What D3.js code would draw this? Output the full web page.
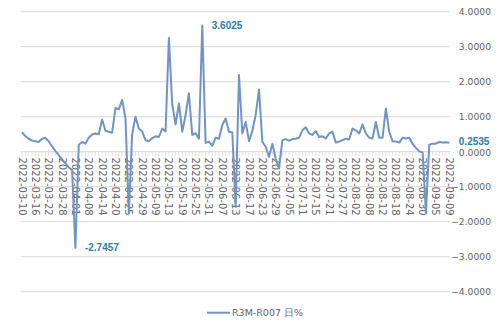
<!DOCTYPE html>
<html><head><meta charset="utf-8">
<script src="https://cdn.jsdelivr.net/npm/d3@7"></script>
<style>body{margin:0;background:#fff;}svg{display:block;}</style>
</head><body><svg id="c" width="500" height="323"></svg>
<script>
const dates = [
"2022-03-10","2022-03-11","2022-03-14","2022-03-15","2022-03-16","2022-03-17","2022-03-18","2022-03-21","2022-03-22","2022-03-23","2022-03-24","2022-03-25","2022-03-28","2022-03-29","2022-03-30","2022-03-31",
"2022-04-01","2022-04-02","2022-04-06","2022-04-07","2022-04-08","2022-04-11","2022-04-12","2022-04-13","2022-04-14","2022-04-15","2022-04-18","2022-04-19","2022-04-20","2022-04-21","2022-04-22","2022-04-24","2022-04-25","2022-04-26","2022-04-27","2022-04-28","2022-04-29",
"2022-05-05","2022-05-06","2022-05-07","2022-05-09","2022-05-10","2022-05-11","2022-05-12","2022-05-13","2022-05-16","2022-05-17","2022-05-18","2022-05-19","2022-05-20","2022-05-23","2022-05-24","2022-05-25","2022-05-26","2022-05-27","2022-05-30","2022-05-31",
"2022-06-01","2022-06-02","2022-06-06","2022-06-07","2022-06-08","2022-06-09","2022-06-10","2022-06-13","2022-06-14","2022-06-15","2022-06-16","2022-06-17","2022-06-20","2022-06-21","2022-06-22","2022-06-23","2022-06-24","2022-06-27","2022-06-28","2022-06-29","2022-06-30",
"2022-07-01","2022-07-04","2022-07-05","2022-07-06","2022-07-07","2022-07-08","2022-07-11","2022-07-12","2022-07-13","2022-07-14","2022-07-15","2022-07-18","2022-07-19","2022-07-20","2022-07-21","2022-07-22","2022-07-25","2022-07-26","2022-07-27","2022-07-28","2022-07-29",
"2022-08-01","2022-08-02","2022-08-03","2022-08-04","2022-08-05","2022-08-08","2022-08-09","2022-08-10","2022-08-11","2022-08-12","2022-08-15","2022-08-16","2022-08-17","2022-08-18","2022-08-19","2022-08-22","2022-08-23","2022-08-24","2022-08-25","2022-08-26","2022-08-29","2022-08-30","2022-08-31",
"2022-09-01","2022-09-02","2022-09-05","2022-09-06","2022-09-07","2022-09-08","2022-09-09"];

const values = [
0.55,0.45,0.37,0.32,0.30,0.28,0.37,0.39,0.30,0.15,0.02,-0.10,-0.22,-0.33,-0.45,-0.52,
-2.7457,0.20,0.28,0.23,0.40,0.49,0.52,0.50,0.92,0.60,0.57,0.54,1.25,1.21,1.48,0.95,
-1.75,0.50,1.00,0.66,0.58,0.33,0.30,0.39,0.44,0.42,0.66,0.58,3.25,1.35,0.78,1.38,
0.57,1.05,1.67,0.48,0.53,0.37,3.6025,0.25,0.29,0.17,0.40,0.37,0.76,0.95,0.57,0.55,
-1.58,2.19,0.52,0.85,0.30,0.60,1.05,1.78,0.28,0.14,-0.15,0.23,-0.20,-0.48,0.33,0.36,
0.31,0.36,0.37,0.40,0.61,0.70,0.52,0.48,0.59,0.42,0.44,0.38,0.52,0.57,0.26,0.29,
0.33,0.37,0.35,0.66,0.61,0.52,0.78,0.52,0.40,0.38,0.85,0.40,0.40,1.23,0.57,0.30,
0.29,0.26,0.40,0.38,0.40,0.23,0.11,0.01,-0.02,-1.75,0.20,0.23,0.23,0.28,0.26,0.27,
0.2535];

const yTicks = [4,3,2,1,0,-1,-2,-3,-4];
const seriesName = "R3M-R007 日%";
const labelEvery = 4;

const seriesColor = "#7094c4";
const labelColor = "#2b7ea6";
const textColor = "#646464";
const gridColor = "#d9d9d9";
const font = "'DejaVu Sans', sans-serif";

const svg = d3.select("#c");
const plotLeft = 20.5, plotRight = 450;
const x = d3.scalePoint().domain(dates).range([22, 449.3]);
const y = d3.scaleLinear().domain([-4, 4]).range([291.7, 11.7]);

// gridlines
svg.append("g").selectAll("line").data(yTicks).join("line")
  .attr("x1", plotLeft).attr("x2", plotRight)
  .attr("y1", d => y(d)).attr("y2", d => y(d))
  .attr("stroke", gridColor).attr("stroke-width", 1);

// category ticks on zero line
svg.append("g").selectAll("line").data(dates).join("line")
  .attr("x1", d => x(d)).attr("x2", d => x(d))
  .attr("y1", y(0)).attr("y2", y(0) + 4)
  .attr("stroke", gridColor).attr("stroke-width", 0.8);

// y labels (right)
const fmt = d3.format(".4f");
svg.append("g").selectAll("text").data(yTicks).join("text")
  .attr("x", 491).attr("y", d => y(d) + (d === 0 ? 1 : 0)).attr("dy", "0.35em")
  .attr("text-anchor", "end")
  .attr("font-family", font).attr("font-size", 9.2)
  .attr("fill", textColor)
  .text(d => fmt(d));

// x labels rotated
svg.append("g").selectAll("text").data(dates.filter((d, i) => i % labelEvery === 0)).join("text")
  .attr("transform", d => `translate(${x(d)},157.5) rotate(90)`)
  .attr("dy", "0.35em")
  .attr("text-anchor", "start")
  .attr("font-family", font).attr("font-size", 10)
  .attr("fill", textColor)
  .text(d => d);

// line
const line = d3.line().x((d, i) => x(dates[i])).y(d => y(d));
svg.append("path").datum(values)
  .attr("d", line).attr("fill", "none")
  .attr("stroke", seriesColor).attr("stroke-width", 2)
  .attr("stroke-linejoin", "round");

// data labels: max, min, last
const last = values.length - 1;
const marks = [d3.maxIndex(values), d3.minIndex(values), last];
svg.append("g").selectAll("text").data(marks).join("text")
  .attr("x", i => x(dates[i]) + 9.5).attr("y", i => y(values[i]) - (i === last ? 1.5 : 0)).attr("dy", "0.35em")
  .attr("font-family", "'Liberation Sans', sans-serif").attr("font-weight", "bold").attr("font-size", 10)
  .attr("fill", labelColor)
  .text(i => values[i].toFixed(4));

// legend
const lg = svg.append("g");
lg.append("line").attr("x1", 207).attr("x2", 230).attr("y1", 312.7).attr("y2", 312.7)
  .attr("stroke", seriesColor).attr("stroke-width", 2);
lg.append("text").attr("x", 232).attr("y", 312.7).attr("dy", "0.35em")
  .attr("font-family", font).attr("font-size", 9.5).attr("fill", textColor)
  .text(seriesName);
</script></body></html>
